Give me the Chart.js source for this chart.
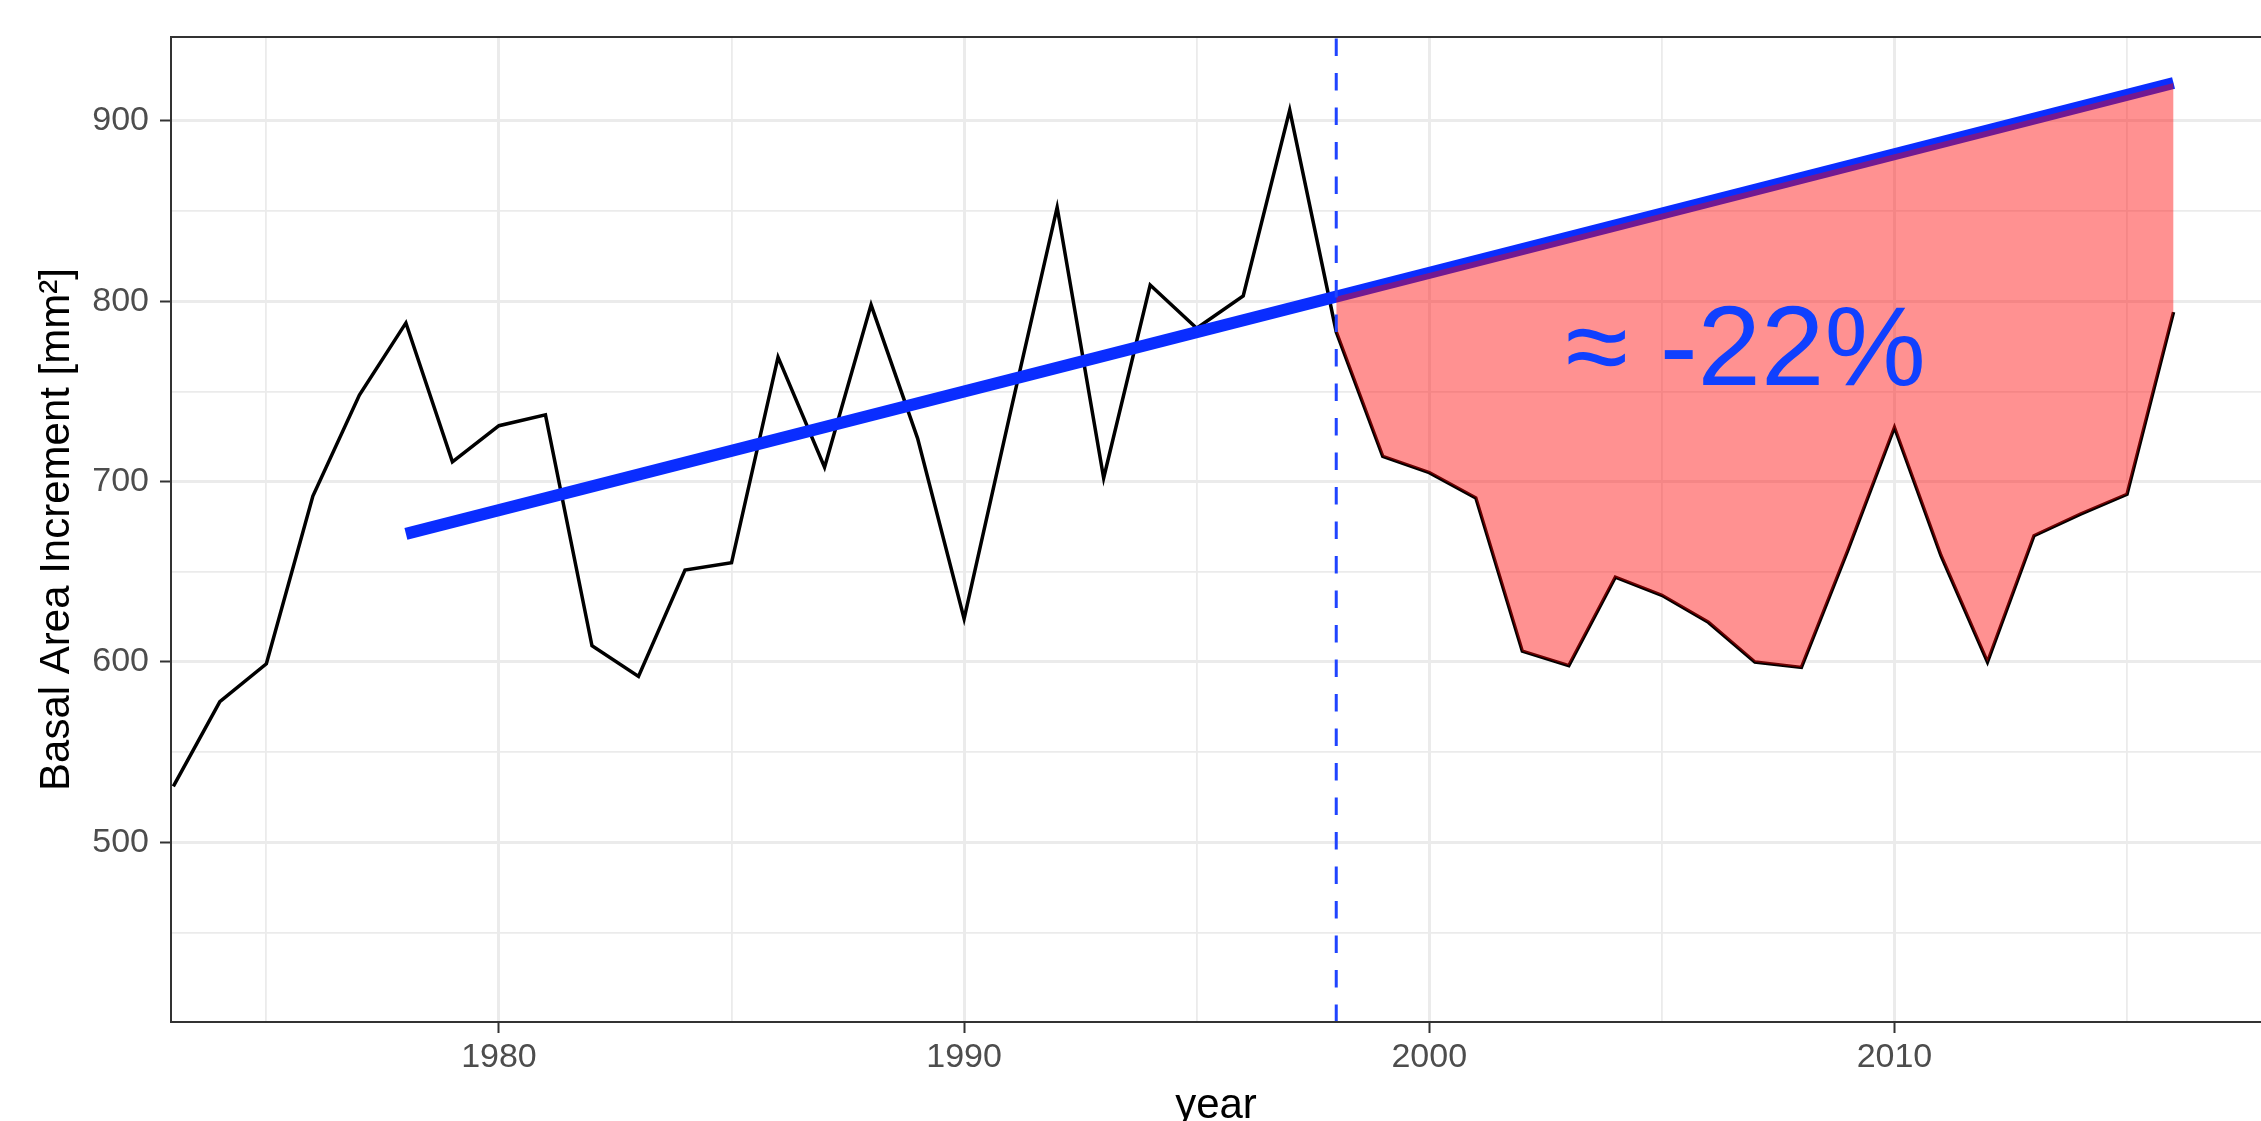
<!DOCTYPE html>
<html>
<head>
<meta charset="utf-8">
<script src="https://cdn.jsdelivr.net/npm/chart.js@4.4.1/dist/chart.umd.min.js"></script>
<style>
    html, body { margin: 0; padding: 0; background: #ffffff; overflow: hidden; }
    canvas { display: block; }
</style>
</head>
<body>
<canvas id="myChart" width="2261" height="1121"></canvas>
<script>
// yearly basal area increment
const years = [1973, 1974, 1975, 1976, 1977, 1978, 1979, 1980, 1981, 1982,
    1983, 1984, 1985, 1986, 1987, 1988, 1989, 1990, 1991, 1992,
    1993, 1994, 1995, 1996, 1997, 1998, 1999, 2000, 2001, 2002,
    2003, 2004, 2005, 2006, 2007, 2008, 2009, 2010, 2011, 2012,
    2013, 2014, 2015, 2016];
const bai = [531, 578, 599, 692, 748, 788, 711, 731, 737, 609,
    592, 651, 655, 769, 708, 798, 724, 624, 739, 852,
    702, 809, 785, 803, 906, 783, 714, 705, 691, 606,
    598, 647, 637, 622, 600, 597, 662, 730, 659, 600,
    670, 682, 693, 794];

// linear trend
const fitYears = [1978, 2016];
const fitValues = [671, 921];

const breakYear = 1998;

const xMajorTicks = [1980, 1990, 2000, 2010];
const xMinorTicks = [1975, 1985, 1995, 2005, 2015];
const yMajorTicks = [500, 600, 700, 800, 900];
const yMinorTicks = [450, 550, 650, 750, 850];
const xRange = [1972.95, 2017.88];
const yRange = [400.4, 946.5];

const annotX = 2006.8;
const annotY = 771;
const annotText = "≈ -22%";

Chart.defaults.font.family = '"Liberation Sans", Arial, Helvetica, sans-serif';

var baiPoints = years.map((yr, i) => ({ x: yr, y: bai[i] }));
var ribbonPoints = baiPoints.filter((p) => p.x >= breakYear);
var fitPoints = fitYears.map((yr, i) => ({ x: yr, y: fitValues[i] }));
var breakPoints = [
    { x: breakYear, y: yRange[0] },
    { x: breakYear, y: yRange[1] },
];

function isIn(list, v) {
    return list.indexOf(v) >= 0;
}

function gridOptions(major) {
    return {
        color: "#ebebeb",
        lineWidth: (c) => (c.tick && isIn(major, c.tick.value) ? 3 : 1.8),
        tickColor: (c) => (c.tick && isIn(major, c.tick.value) ? "#333333" : "rgba(0,0,0,0)"),
        tickLength: 11,
        tickWidth: 2,
        drawTicks: true,
    };
}

const panelBorder = {
    id: "panelBorder",
    afterDraw(chart) {
        var ctx = chart.ctx;
        var a = chart.chartArea;
        ctx.save();
        ctx.strokeStyle = "#333333";
        ctx.lineWidth = 2;
        ctx.beginPath();
        ctx.moveTo(a.right + 5, a.top);
        ctx.lineTo(a.left, a.top);
        ctx.lineTo(a.left, a.bottom);
        ctx.lineTo(a.right + 5, a.bottom);
        ctx.stroke();
        ctx.restore();
    },
};

const annotation = {
    id: "annotation",
    afterDatasetsDraw(chart) {
        var ctx = chart.ctx;
        var px = chart.scales.x.getPixelForValue(annotX);
        var py = chart.scales.y.getPixelForValue(annotY);
        ctx.save();
        ctx.fillStyle = "#1040ff";
        ctx.font = '114px "Liberation Sans", Arial, sans-serif';
        ctx.textAlign = "center";
        ctx.textBaseline = "middle";
        ctx.fillText(annotText, px, py);
        ctx.restore();
    },
};

const ctx = document.getElementById("myChart").getContext("2d");
const myChart = new Chart(ctx, {
    type: "line",
    plugins: [annotation, panelBorder],
    data: {
        datasets: [
            {
                // break year
                data: breakPoints,
                borderColor: "#1f44ff",
                borderWidth: 3,
                borderDash: [17.5, 17],
                pointRadius: 0,
                fill: false,
                order: 0,
            },
            {
                // shortfall against the trend
                data: ribbonPoints,
                borderColor: "rgba(0,0,0,0)",
                borderWidth: 1,
                backgroundColor: "rgba(255,0,0,0.43)",
                pointRadius: 0,
                fill: 2,
                order: 1,
            },
            {
                data: fitPoints,
                borderColor: "#0a2dff",
                borderWidth: 12,
                pointRadius: 0,
                fill: false,
                order: 2,
            },
            {
                data: baiPoints,
                borderColor: "#000000",
                borderWidth: 3.5,
                pointRadius: 0,
                fill: false,
                order: 3,
            },
        ],
    },
    options: {
        responsive: false,
        animation: false,
        devicePixelRatio: 1,
        layout: {
            padding: { top: 37, right: 0, bottom: 0, left: 0 },
        },
        plugins: {
            legend: { display: false },
            tooltip: { enabled: false },
        },
        scales: {
            x: {
                type: "linear",
                min: xRange[0],
                max: xRange[1],
                afterBuildTicks: (s) => {
                    s.ticks = xMajorTicks.concat(xMinorTicks).sort((a, b) => a - b).map((v) => ({ value: v }));
                },
                afterFit: (s) => {
                    s.height = 99;
                },
                grid: gridOptions(xMajorTicks),
                border: { display: false },
                ticks: {
                    autoSkip: false,
                    maxRotation: 0,
                    padding: 4,
                    color: "#4d4d4d",
                    font: { size: 34 },
                    callback: (value) => (isIn(xMajorTicks, value) ? String(value) : ""),
                },
                title: {
                    display: true,
                    text: "year",
                    color: "#000000",
                    font: { size: 42, lineHeight: 0.7 },
                    padding: { top: 0, bottom: 0 },
                },
            },
            y: {
                type: "linear",
                min: yRange[0],
                max: yRange[1],
                afterBuildTicks: (s) => {
                    s.ticks = yMajorTicks.concat(yMinorTicks).sort((a, b) => a - b).map((v) => ({ value: v }));
                },
                afterFit: (s) => {
                    s.width = 171;
                },
                grid: gridOptions(yMajorTicks),
                border: { display: false },
                ticks: {
                    autoSkip: false,
                    padding: 11,
                    color: "#4d4d4d",
                    font: { size: 34 },
                    callback: (value) => (isIn(yMajorTicks, value) ? String(value) : ""),
                },
                title: {
                    display: true,
                    text: "Basal Area Increment [mm²]",
                    color: "#000000",
                    font: { size: 42 },
                    padding: { top: 32, bottom: 0 },
                },
            },
        },
    },
});
</script>
</body>
</html>
